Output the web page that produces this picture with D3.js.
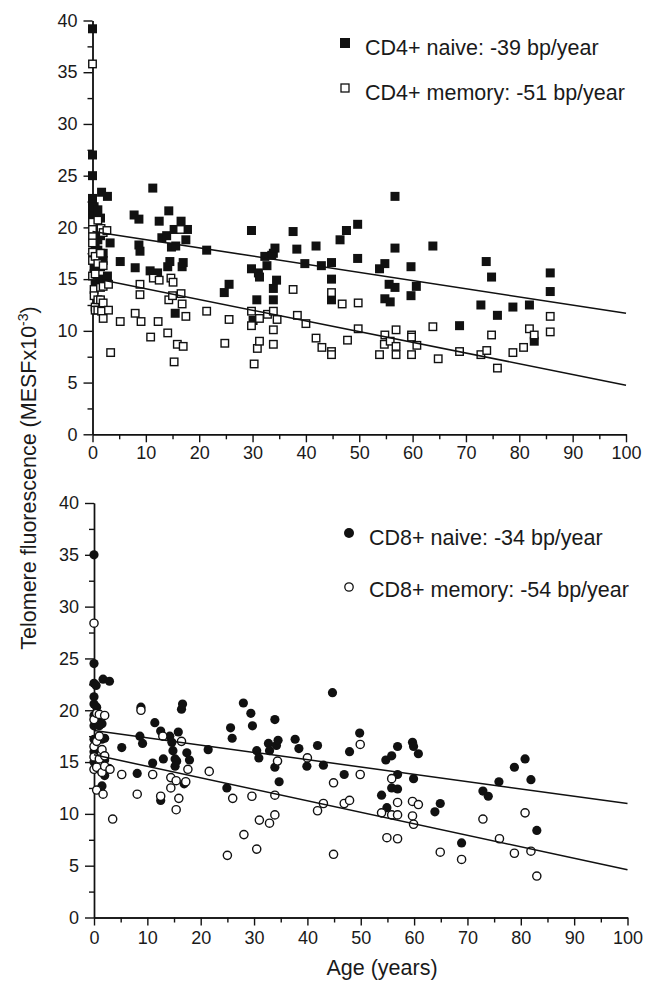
<!DOCTYPE html>
<html>
<head>
<meta charset="utf-8">
<script src="https://cdn.jsdelivr.net/npm/d3@7"></script>
<style>
  body { margin: 0; background: #fff; }
  svg { font-family: "Liberation Sans", Arial, sans-serif; }
  .tick text { font-size: 18px; fill: #1a1a1a; }
  .domain, .tick line { stroke: #111; stroke-width: 1.4px; }
</style>
</head>
<body>
<svg width="645" height="989"></svg>
<script>
// values: [age, telomere fluorescence x10^-3]
const cd4Naive = [
  [0,39.2],[0,27.0],[0,25.0],[0,22.8],[0,22.3],[0,21.8],[0,21.3],[0,20.8],[0.3,22.0],[0.3,21.0],
  [0.5,20.2],[0.5,18.2],[0.3,17.5],[0.3,16.2],[0.3,15.5],[0.5,14.8],[1,21.7],[1,19.5],[1,18.8],[1,17.8],
  [1.7,23.4],[1.5,20.9],[1.5,19.2],[1.5,17.0],[1.5,16.2],[2,17.5],[2,16.8],[2,15.0],[2.8,23.0],[2.8,15.3],
  [3.3,18.5],[5.2,16.7],[7.8,21.2],[8.7,20.8],[8,16.1],[8.7,18.3],[8.9,17.7],[10.8,15.8],[11.3,23.8],[12.2,15.6],
  [12.5,20.6],[13,19.0],[13.9,19.2],[14.1,16.2],[14.3,21.6],[14.5,16.7],[14.8,18.1],[15.3,19.8],[15.5,11.7],[15.6,18.2],
  [16.6,20.6],[16.8,16.2],[17,16.6],[17.5,18.8],[17.8,19.8],[21.4,17.8],[24.7,13.7],[25.6,14.5],[29.8,19.7],[29.8,16.0],
  [30.1,11.0],[30.8,13.0],[31.1,15.6],[31.3,15.2],[32.3,17.2],[32.7,16.3],[33.6,17.3],[33.9,17.5],[33.9,14.1],[33.9,13.0],
  [34.2,18.0],[34.5,14.9],[37.6,19.6],[38.3,17.9],[39.8,16.5],[41.9,18.2],[42.9,16.3],[44.8,16.6],[44.8,15.0],[44.8,13.0],
  [46.4,18.8],[47.6,19.7],[49.7,20.3],[49.7,17.0],[53.8,16.0],[54.8,16.5],[54.8,13.1],[55.6,14.5],[55.8,12.8],[56.7,23.0],
  [56.7,18.0],[56.7,14.2],[59.7,16.2],[59.7,13.4],[60.7,14.3],[63.8,18.2],[68.8,10.5],[72.8,12.5],[73.8,16.7],[74.8,15.2],
  [75.9,11.5],[78.8,12.3],[81.9,12.5],[82.8,9.0],[85.8,15.6],[85.8,13.8]
];
const cd4Memory = [
  [0,35.8],[0,20.5],[0,19.8],[0,19.1],[0,18.5],[0,17.6],[0,16.8],[0,15.3],[0.3,14.0],[0.3,13.4],
  [0.5,17.2],[0.5,15.5],[0.5,12.3],[0.5,12.0],[1,20.7],[1,16.5],[1,13.0],[1,12.0],[1.6,19.9],[1.5,17.5],
  [1.5,14.2],[1.5,13.0],[1.7,11.9],[2,19.5],[2,16.3],[2,14.3],[2,12.7],[2,11.2],[2.7,19.7],[3,14.5],
  [3,12.0],[3.4,7.9],[5.2,10.9],[8,11.7],[8.9,14.5],[8.9,13.5],[9.1,10.9],[10.9,9.4],[11.4,15.1],[12.3,10.9],
  [12.5,14.9],[14.1,9.8],[14.3,13.0],[14.7,15.1],[15,13.4],[15.1,14.7],[15.3,7.0],[15.9,8.7],[16.5,19.8],[16.6,13.6],
  [16.8,12.6],[17,8.5],[17.5,11.4],[21.4,11.9],[24.8,8.8],[25.6,11.1],[29.8,11.9],[29.8,10.5],[30.3,6.8],[30.9,8.3],
  [31.3,11.2],[31.3,9.0],[32.8,11.6],[33.9,11.9],[33.9,10.1],[33.9,8.7],[34.6,11.1],[37.6,14.0],[38.4,11.5],[40,10.7],
  [41.9,9.3],[43,8.4],[44.8,13.7],[44.8,8.0],[44.8,7.7],[46.8,12.6],[47.8,9.1],[49.8,12.7],[49.8,10.2],[53.8,7.7],
  [54.8,9.6],[54.7,8.7],[55.8,9.0],[56.9,8.5],[56.9,10.1],[56.9,7.7],[59.8,9.6],[59.8,9.4],[59.8,7.7],[60.8,8.6],
  [63.8,10.4],[64.8,7.3],[68.8,8.0],[72.8,7.7],[73.9,8.1],[74.8,9.6],[75.9,6.4],[78.8,7.9],[80.8,8.4],[81.9,10.2],
  [82.8,9.6],[85.8,11.4],[85.8,9.9]
];
const cd8Naive = [
  [0,35.0],[0,24.5],[0,22.6],[0,21.3],[0,20.6],[0,19.5],[0,18.5],[0,17.2],[0,16.0],[0,15.0],
  [0.4,22.4],[0.5,20.3],[0.5,18.8],[1,19.2],[1,18.5],[1,17.5],[1.7,23.0],[1.5,18.7],[1.5,17.2],[1.5,14.0],
  [1.5,12.7],[2,17.3],[2,15.2],[2,13.7],[2.9,22.8],[2.8,14.4],[5.2,16.4],[8.1,13.9],[8.6,17.5],[8.8,20.3],
  [9.1,16.8],[11,14.9],[11.4,18.8],[12.5,18.0],[12.5,11.3],[13,15.3],[14.2,17.5],[14.6,16.9],[14.8,16.1],[15.2,15.3],
  [15.5,15.1],[15.2,14.6],[15.8,17.9],[16.4,20.1],[16.6,20.6],[16.9,12.9],[17.4,15.9],[17.9,15.2],[21.4,16.2],[24.9,12.5],
  [25.6,18.3],[25.9,17.3],[28,20.7],[29.4,19.7],[29.7,18.5],[30.5,16.1],[30.9,15.4],[32.7,16.8],[32.9,16.1],[33.9,19.1],
  [33.9,14.5],[34.2,16.6],[34.5,17.1],[34.7,13.1],[37.7,17.2],[38.4,16.3],[39.9,14.6],[41.9,16.6],[43,14.7],[44.7,21.7],
  [46.9,13.8],[47.9,16.0],[49.8,17.8],[53.9,11.8],[54.7,15.2],[54.9,10.6],[55.8,15.6],[55.8,12.5],[56.9,16.5],[56.9,13.8],
  [56.9,12.4],[59.7,16.9],[59.9,16.5],[59.9,13.4],[60.8,15.8],[63.9,10.2],[64.9,11.0],[68.9,7.2],[72.9,12.2],[73.9,11.7],
  [75.9,13.1],[78.8,14.5],[80.8,15.3],[81.9,13.3],[83,8.4]
];
const cd8Memory = [
  [0,28.4],[0,19.1],[0,16.5],[0,15.5],[0,14.3],[0.5,19.7],[0.5,17.0],[0.5,14.5],[0.5,12.3],[1,19.6],
  [1,17.5],[1,15.3],[1.5,16.2],[1.5,14.0],[1.7,11.9],[2,19.5],[2,15.6],[2,14.6],[3,14.3],[3.5,9.5],
  [5.2,13.8],[8.1,11.9],[8.8,20.0],[11,13.8],[12.5,11.7],[12.9,17.5],[14.4,13.5],[14.4,12.5],[15.4,13.2],[15.4,10.4],
  [15.9,11.5],[16.4,17.0],[17.2,13.1],[17.6,14.3],[21.6,14.1],[25,6.0],[26,11.5],[28.1,8.0],[29.6,11.7],[30.5,6.6],
  [31,9.4],[32.9,9.1],[33.9,9.9],[33.9,11.8],[34.4,15.1],[40,15.4],[41.9,10.3],[43,11.0],[44.9,13.0],[44.9,6.1],
  [46.9,11.0],[47.9,11.3],[49.9,16.7],[49.9,13.8],[53.9,10.1],[54.9,7.7],[55.8,13.4],[55.8,9.9],[56.9,9.9],[56.9,11.1],
  [56.9,7.6],[59.7,11.2],[59.7,9.8],[59.9,9.0],[60.8,10.9],[64.9,6.3],[68.9,5.6],[72.9,9.5],[76,7.6],[78.8,6.2],
  [80.8,10.1],[81.9,6.4],[83,4.0]
];
// regression lines: value at age 0 and at age 100
const cd4NaiveFit = [19.6, 11.7];
const cd4MemoryFit = [15.1, 4.75];
const cd8NaiveFit = [18.05, 11.0];
const cd8MemoryFit = [15.7, 4.6];
const fitAges = [0, 100];
const legendTop = ["CD4+ naive: -39 bp/year", "CD4+ memory: -51 bp/year"];
const legendBottom = ["CD8+ naive: -34 bp/year", "CD8+ memory: -54 bp/year"];
const xMajor = [0,10,20,30,40,50,60,70,80,90,100];
const yMajor = [0,5,10,15,20,25,30,35,40];

const svg = d3.select("svg");
const ink = "#111";

function panel(opts){
  const x = d3.scaleLinear().domain([0,100]).range([opts.x0, opts.x1]);
  const y = d3.scaleLinear().domain([0,40]).range([opts.y0, opts.y1]);
  const g = svg.append("g");

  // minor ticks first
  g.append("g").attr("transform", `translate(0,${opts.y0})`)
    .call(d3.axisBottom(x).tickValues(d3.range(5,100,10)).tickSize(5).tickFormat("").tickSizeOuter(0));
  g.append("g").attr("transform", `translate(${opts.x0},0)`)
    .call(d3.axisLeft(y).tickValues(d3.range(2.5,40,5)).tickSize(5).tickFormat("").tickSizeOuter(0));
  g.append("g").attr("transform", `translate(0,${opts.y0})`)
    .call(d3.axisBottom(x).tickValues(xMajor).tickSize(8).tickPadding(opts.xPad).tickSizeOuter(0));
  g.append("g").attr("transform", `translate(${opts.x0},0)`)
    .call(d3.axisLeft(y).tickValues(yMajor).tickSize(9).tickPadding(6).tickSizeOuter(0));

  const line = d3.line().x(d => x(d[0])).y(d => y(d[1]));
  const fits = [opts.fitA, opts.fitB];

  if (opts.shape === "square"){
    const s1 = 9, s2 = 7.5;
    g.selectAll(null).data(opts.filled).enter().append("rect")
      .attr("x", d => x(d[0]) - s1/2).attr("y", d => y(d[1]) - s1/2)
      .attr("width", s1).attr("height", s1).attr("fill", ink);
    g.selectAll(null).data(opts.open).enter().append("rect")
      .attr("x", d => x(d[0]) - s2/2).attr("y", d => y(d[1]) - s2/2)
      .attr("width", s2).attr("height", s2)
      .attr("fill", "#fff").attr("stroke", ink).attr("stroke-width", 1.4);
  } else {
    g.selectAll(null).data(opts.filled).enter().append("circle")
      .attr("cx", d => x(d[0])).attr("cy", d => y(d[1])).attr("r", 4.6).attr("fill", ink);
    g.selectAll(null).data(opts.open).enter().append("circle")
      .attr("cx", d => x(d[0])).attr("cy", d => y(d[1])).attr("r", 4.1)
      .attr("fill", "#fff").attr("stroke", ink).attr("stroke-width", 1.4);
  }

  fits.forEach(f => {
    g.append("path")
      .datum(fitAges.map((a, i) => [a, f[i]]))
      .attr("d", line).attr("fill", "none").attr("stroke", ink).attr("stroke-width", 1.5);
  });

  // legend
  const lg = g.append("g");
  opts.legend.forEach((t, i) => {
    const ly = opts.legY[i];
    if (opts.shape === "square"){
      if (i === 0) lg.append("rect").attr("x", opts.legX - 5).attr("y", ly - 12 - 5).attr("width", 10).attr("height", 10).attr("fill", ink);
      else lg.append("rect").attr("x", opts.legX - 4).attr("y", ly - 12 - 4).attr("width", 8).attr("height", 8)
        .attr("fill", "#fff").attr("stroke", ink).attr("stroke-width", 1.3);
    } else {
      if (i === 0) lg.append("circle").attr("cx", opts.legX).attr("cy", ly - 12).attr("r", 5).attr("fill", ink);
      else lg.append("circle").attr("cx", opts.legX).attr("cy", ly - 10).attr("r", 4.2)
        .attr("fill", "#fff").attr("stroke", ink).attr("stroke-width", 1.3);
    }
    lg.append("text").attr("x", opts.legX + 20).attr("y", ly)
      .attr("font-size", 21.5).attr("fill", "#1a1a1a").text(t);
  });
}

panel({x0: 92.5, x1: 626, y0: 434.3, y1: 20.5, xPad: 4, shape: "square",
  filled: cd4Naive, open: cd4Memory, fitA: cd4NaiveFit, fitB: cd4MemoryFit,
  legend: legendTop, legX: 345, legY: [55, 100]});
panel({x0: 94, x1: 627.5, y0: 917.5, y1: 503, xPad: 6, shape: "circle",
  filled: cd8Naive, open: cd8Memory, fitA: cd8NaiveFit, fitB: cd8MemoryFit,
  legend: legendBottom, legX: 349, legY: [545, 597]});

const yTitle = svg.append("text")
  .attr("transform", "translate(36,478) rotate(-90)")
  .attr("text-anchor", "middle").attr("font-size", 21.5).attr("fill", "#1a1a1a");
yTitle.append("tspan").text("Telomere fluorescence (MESFx10");
yTitle.append("tspan").attr("dy", -8).attr("font-size", 14).text("-3");
yTitle.append("tspan").attr("dy", 8).text(")");

svg.append("text")
  .attr("x", 382).attr("y", 975).attr("text-anchor", "middle")
  .attr("font-size", 21.5).attr("fill", "#1a1a1a").text("Age (years)");
</script>
</body>
</html>
